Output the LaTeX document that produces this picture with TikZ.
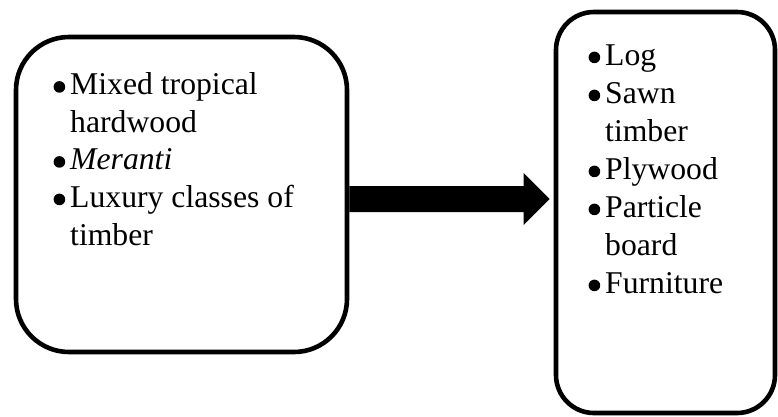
\documentclass[tikz,border=0pt]{standalone}
\usepackage{fontspec}
\setmainfont{Liberation Serif}
\usetikzlibrary{calc}
\tikzset{
  box/.style={draw=black, line width=4.6pt, rectangle, inner sep=0pt},
  txt/.style={anchor=base west, inner sep=0pt, font=\fontsize{31.7pt}{38pt}\selectfont},
}
\newcommand{\bul}{\llap{\tikz[baseline={(0pt,-7.6pt)}]\fill[black] (0pt,0pt) circle (5.8pt);\hspace{5pt}}}
\begin{document}
\begin{tikzpicture}[x=1pt,y=-1pt]
\useasboundingbox (0,0) rectangle (778,416);
% boxes
\node[box, rounded corners=53pt, minimum width=331pt, minimum height=315pt] (lbox) at (181.5,194.5) {};
\node[box, rounded corners=38pt, minimum width=219pt, minimum height=401pt] (rbox) at (665.5,212.5) {};
% left text
\node[txt] (l1) at (70,94.5) {\bul Mixed tropical};
\node[txt] (l2) at (70,132) {hardwood};
\node[txt] (l3) at (70,169.5) {\bul\textit{Meranti}};
\node[txt] (l4) at (70,207) {\bul Luxury classes of};
\node[txt] (l5) at (70,245) {timber};
% right text
\node[txt] (r1) at (605,65) {\bul Log};
\node[txt] (r2) at (605,103) {\bul Sawn};
\node[txt] (r3) at (605,141) {timber};
\node[txt] (r4) at (605,179) {\bul Plywood};
\node[txt] (r5) at (605,217) {\bul Particle};
\node[txt] (r6) at (605,255) {board};
\node[txt] (r7) at (605,293) {\bul Furniture};
% arrow
\coordinate (a0) at (lbox.east |- 0,199);
\coordinate (tip) at ($(rbox.west |- 0,199)+(-4,0)$);
\fill[black] ($(a0)+(0,-13)$) -- ($(tip)+(-26,-13)$) -- ($(tip)+(-26,-26)$) -- (tip)
  -- ($(tip)+(-26,26)$) -- ($(tip)+(-26,13)$) -- ($(a0)+(0,13)$) -- cycle;
\end{tikzpicture}
\end{document}
